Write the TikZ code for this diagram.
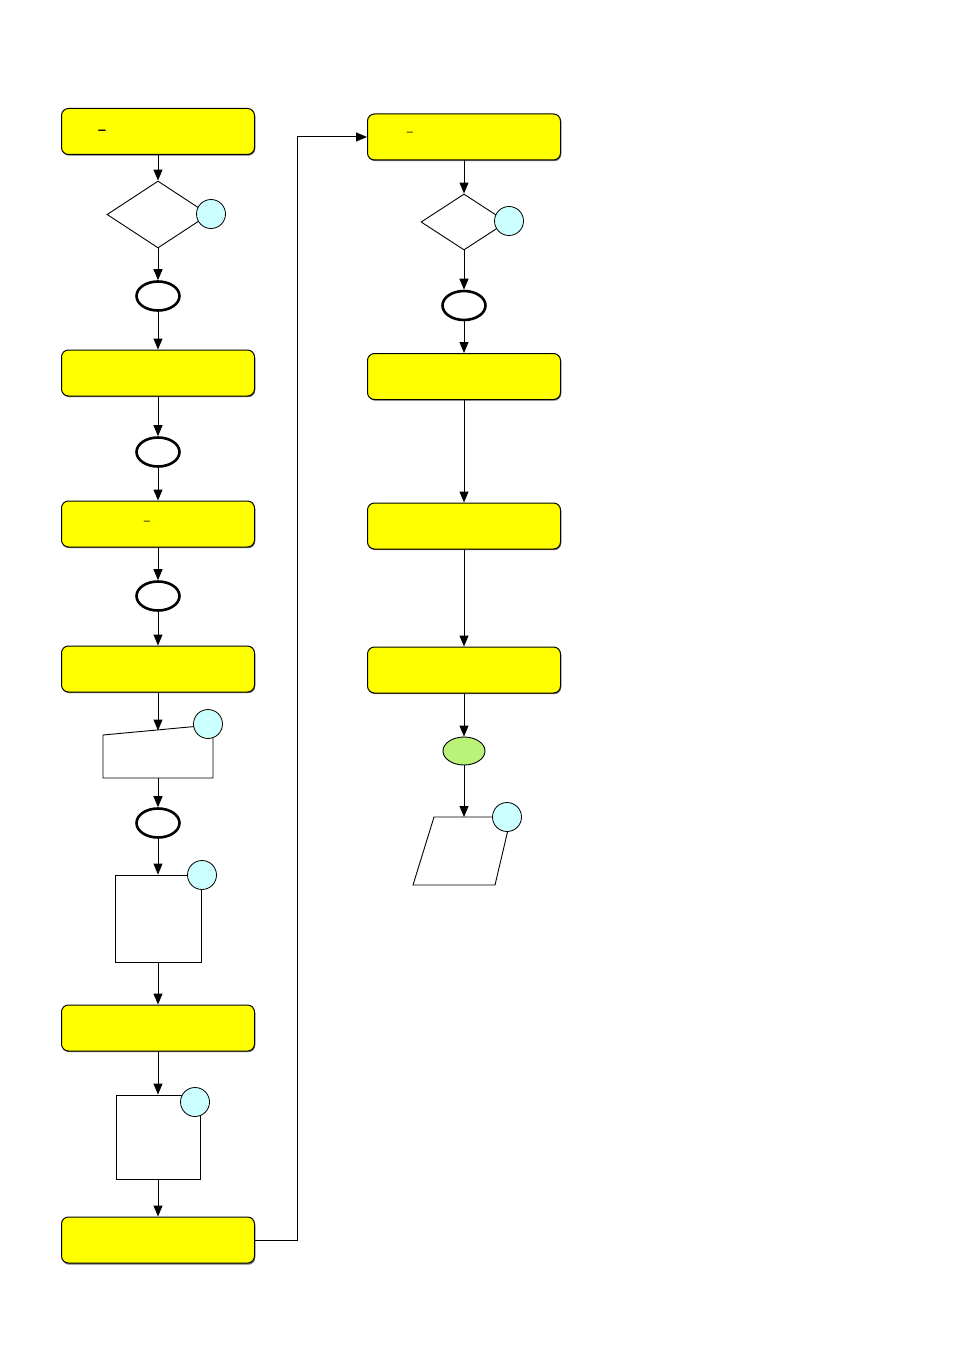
\documentclass[tikz,border=0pt]{standalone}
\usetikzlibrary{shapes.geometric,arrows.meta}
\definecolor{boxyellow}{HTML}{FFFF00}
\definecolor{markcyan}{HTML}{CCFFFF}
\definecolor{termgreen}{HTML}{BBF27A}
\tikzset{
  procbox/.style={draw=black, line width=1pt, fill=boxyellow, rounded corners=7pt,
    minimum width=193pt, minimum height=46pt, inner sep=0pt},
  shadowbox/.style={fill=black!55, rounded corners=7pt, minimum width=193pt, minimum height=46pt, inner sep=0pt},
  decis/.style={draw=black, line width=0.9pt, fill=white, diamond, inner sep=0pt},
  conn/.style={draw=black, line width=2.6pt, fill=white, ellipse, minimum width=43pt, minimum height=29pt, inner sep=0pt},
  badge/.style={draw=black, line width=0.8pt, fill=markcyan, circle, minimum size=29pt, inner sep=0pt},
  flow/.style={draw=black, line width=1pt, -{Triangle[length=11pt,width=9pt]}},
  plain/.style={draw=black, line width=0.9pt},
  dashtxt/.style={font=\sffamily\small, inner sep=0pt}
}
\begin{document}
\begin{tikzpicture}[x=1pt,y=-1pt]
\useasboundingbox (0,0) rectangle (954,1348);
% shadows
\foreach \y in {131.5,373,524,669,1028,1240.5}{\node[shadowbox] at (158.8,\y+1.2) {};}
\foreach \y in {137,376.5,526,670}{\node[shadowbox] at (464.8,\y+1.2) {};}
% left column
\node[procbox] (b1) at (158,131.5) {};
\node[dashtxt, font=\sffamily\bfseries] (t1) at (102,130) {\_};
\node[decis, minimum width=102pt, minimum height=67pt] (d1) at (158,214.5) {};
\node[badge] (c1) at (211,214) {};
\node[conn] (e1) at (158,296) {};
\node[procbox] (b2) at (158,373) {};
\node[conn] (e2) at (158,452) {};
\node[procbox] (b3) at (158,524) {};
\node[dashtxt] (t3) at (147,521) {\_};
\node[conn] (e3) at (158,596) {};
\node[procbox] (b4) at (158,669) {};
% manual input
\coordinate (m1) at (103,735);
\coordinate (m2) at (200,726);
\coordinate (m3) at (213,778);
\coordinate (m4) at (103,778);
\coordinate (mtop) at (158,730.5);
\coordinate (mbot) at (158,778);
\draw[plain, fill=white] (m1) -- (m2) -- (213,726) -- (m3) -- (m4) -- cycle;
\node[badge] (c2) at (208,724) {};
\node[conn] (e4) at (158,823) {};
\node[draw=black, line width=0.9pt, fill=white, minimum width=86pt, minimum height=87pt, inner sep=0pt] (r1) at (158,918.5) {};
\node[badge] (c3) at (202,875) {};
\node[procbox] (b5) at (158,1028) {};
\node[draw=black, line width=0.9pt, fill=white, minimum width=84pt, minimum height=84pt, inner sep=0pt] (r2) at (158,1137) {};
\node[badge] (c4) at (195,1102) {};
\node[procbox] (b6) at (158,1240) {};
% right column
\node[procbox] (R1) at (464,137) {};
\node[dashtxt] (t2) at (410,132) {\_};
\node[decis, minimum width=86pt, minimum height=56pt] (d2) at (464,222) {};
\node[badge] (c5) at (509,221) {};
\node[conn] (e5) at (464,305.5) {};
\node[procbox] (R2) at (464,376.5) {};
\node[procbox] (R3) at (464,526) {};
\node[procbox] (R4) at (464,670) {};
\node[draw=black, line width=0.9pt, fill=termgreen, ellipse, minimum width=42pt, minimum height=28pt, inner sep=0pt] (g1) at (464,751) {};
\coordinate (p1) at (434,817);
\coordinate (p2) at (511,817);
\coordinate (p3) at (495,885);
\coordinate (p4) at (413,885);
\coordinate (ptop) at (464,817);
\draw[plain, fill=white] (p1) -- (p2) -- (p3) -- (p4) -- cycle;
\node[badge] (c6) at (507,817) {};
% connectors left
\draw[flow] (b1.south) -- (d1.north);
\draw[flow] (d1.south) -- (e1.north);
\draw[flow] (e1.south) -- (b2.north);
\draw[flow] (b2.south) -- (e2.north);
\draw[flow] (e2.south) -- (b3.north);
\draw[flow] (b3.south) -- (e3.north);
\draw[flow] (e3.south) -- (b4.north);
\draw[flow] (b4.south) -- (mtop);
\draw[flow] (mbot) -- (e4.north);
\draw[flow] (e4.south) -- (r1.north);
\draw[flow] (r1.south) -- (b5.north);
\draw[flow] (b5.south) -- (r2.north);
\draw[flow] (r2.south) -- (b6.north);
\draw[flow] (b6.east) -- (297,1240) -- (297,137) -- (R1.west);
% connectors right
\draw[flow] (R1.south) -- (d2.north);
\draw[flow] (d2.south) -- (e5.north);
\draw[flow] (e5.south) -- (R2.north);
\draw[flow] (R2.south) -- (R3.north);
\draw[flow] (R3.south) -- (R4.north);
\draw[flow] (R4.south) -- (g1.north);
\draw[flow] (g1.south) -- (ptop);
\end{tikzpicture}
\end{document}
